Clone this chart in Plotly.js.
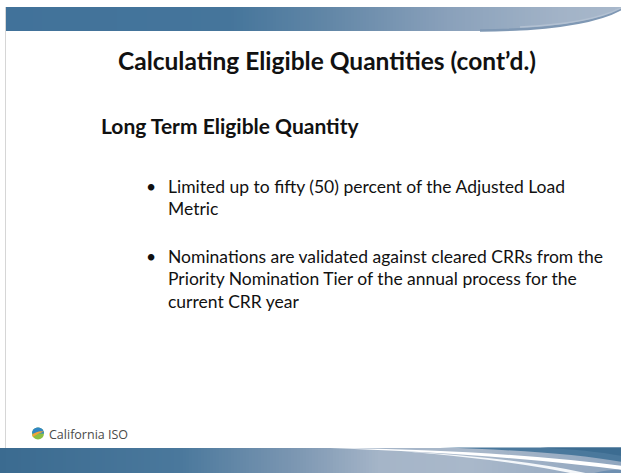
<!DOCTYPE html>
<html>
<head>
<meta charset="utf-8">
<script src="https://cdn.plot.ly/plotly-3.0.1.min.js"></script>
<style>html,body{margin:0;padding:0;background:#fff;}#chart{width:621px;height:473px;}</style>
</head>
<body>
<div id="chart"></div>
<script>
// ---- slide content ----
var titleText = "Calculating Eligible Quantities (cont\u2019d.)";
var subtitleText = "Long Term Eligible Quantity";
var bullet1Lines = ["Limited up to fifty (50) percent of the Adjusted Load", "Metric"];
var bullet2Lines = ["Nominations are validated against cleared CRRs from the", "Priority Nomination Tier of the annual process for the", "current CRR year"];
var footerText = "California ISO";

var W = 621, H = 473;
var shapes = [];
var annotations = [];

function hexToRgb(h){h=h.replace('#','');return [parseInt(h.substr(0,2),16),parseInt(h.substr(2,2),16),parseInt(h.substr(4,2),16)];}
function colorAt(stops, x){
  if (x <= stops[0][0]) return stops[0][1];
  for (var i=1;i<stops.length;i++){
    if (x <= stops[i][0]){
      var a=stops[i-1], b=stops[i], t=(x-a[0])/(b[0]-a[0]);
      var ca=hexToRgb(a[1]), cb=hexToRgb(b[1]);
      return 'rgb('+Math.round(ca[0]+(cb[0]-ca[0])*t)+','+Math.round(ca[1]+(cb[1]-ca[1])*t)+','+Math.round(ca[2]+(cb[2]-ca[2])*t)+')';
    }
  }
  return stops[stops.length-1][1];
}
function gradientRect(x0,x1,y0,y1,stops,step){
  for (var x=x0;x<x1;x+=step){
    shapes.push({type:'rect',xref:'x',yref:'y',x0:x,x1:Math.min(x+step+0.6,x1),y0:y0,y1:y1,
      fillcolor:colorAt(stops,x+step/2),line:{width:0},layer:'below'});
  }
}

// left border line
shapes.push({type:'line',xref:'x',yref:'y',x0:5.5,x1:5.5,y0:7,y1:448,line:{color:'#d6d6d6',width:1},layer:'below'});

// top bar
gradientRect(6, W, 7, 31, [[6,'#41729a'],[230,'#45759b'],[330,'#6287a7'],[450,'#8aa1bb'],[560,'#a2b3c7'],[621,'#a8b8cb']], 3);
// curved tail (white cut-out below curve)
shapes.push({type:'path',xref:'x',yref:'y',path:'M 470 31.5 Q 585 31 622 8 L 622 32 Z',fillcolor:'#ffffff',line:{width:0},layer:'below'});
// darker rim along the curve
shapes.push({type:'path',xref:'x',yref:'y',path:'M 480 30.5 Q 584 29.5 621 9',fillcolor:'rgba(0,0,0,0)',line:{color:'#7f98b4',width:2.5},layer:'below'});
shapes.push({type:'path',xref:'x',yref:'y',path:'M 520 27 Q 590 24 621 8',fillcolor:'rgba(0,0,0,0)',line:{color:'#b3c1d2',width:1.5},layer:'below'});

// bottom bar
gradientRect(0, W, 448, H, [[0,'#3b6b90'],[180,'#4a789c'],[300,'#7e98b3'],[380,'#a5b5c8'],[470,'#a9b8ca'],[621,'#90a6bf']], 3);
// dark band sweeping at top right
shapes.push({type:'path',xref:'x',yref:'y',path:'M 440 447.5 L 622 447.5 L 622 462 Q 560 451 440 447.5 Z',fillcolor:'#4a789c',line:{width:0},layer:'below'});
shapes.push({type:'path',xref:'x',yref:'y',path:'M 540 447.5 L 622 447.5 L 622 456 Q 590 450 540 447.5 Z',fillcolor:'#3c6c91',line:{width:0},layer:'below'});
// white swooshes
shapes.push({type:'path',xref:'x',yref:'y',path:'M 330 448 Q 500 450 622 466 L 622 470 Q 500 454 330 448 Z',fillcolor:'#ffffff',line:{width:0},layer:'below'});
shapes.push({type:'path',xref:'x',yref:'y',path:'M 400 451 Q 520 458 590 474 L 575 474 Q 510 460 400 451 Z',fillcolor:'#f4f7fa',line:{width:0},layer:'below'});
// blue lower-right under the white swoosh
shapes.push({type:'path',xref:'x',yref:'y',path:'M 590 474 Q 610 469 622 470 L 622 474 Z',fillcolor:'#6e8fb0',line:{width:0},layer:'below'});

// logo globe
shapes.push({type:'circle',xref:'x',yref:'y',x0:32,x1:44,y0:427.5,y1:439.5,fillcolor:'#8cc044',line:{width:0}});
shapes.push({type:'path',xref:'x',yref:'y',path:'M 32 433.5 C 32 425.5, 44 425.5, 44 433.5 Z',fillcolor:'#2f86c4',line:{width:0}});
shapes.push({type:'path',xref:'x',yref:'y',path:'M 32.3 435 Q 37 430.5 43.8 431.5 Q 38 433.5 32.8 437 Z',fillcolor:'#f2a23a',line:{width:0}});

// title & subtitle
annotations.push({xref:'x',yref:'y',x:327,y:60,text:'<b>'+titleText+'</b>',showarrow:false,xanchor:'center',yanchor:'middle',
  font:{family:'Lato, "Open Sans", sans-serif',size:24.5,color:'#111111'}});
annotations.push({xref:'x',yref:'y',x:99,y:125,text:'<b>'+subtitleText+'</b>',showarrow:false,xanchor:'left',yanchor:'middle',
  font:{family:'Lato, "Open Sans", sans-serif',size:21,color:'#111111'}});

// bullets
var bodyFont = {family:'Lato, "Open Sans", sans-serif',size:17.5,color:'#111111'};
var lineGap = 22.5;
function addBullet(lines, yStart){
  annotations.push({xref:'x',yref:'y',x:151,y:yStart,text:'\u2022',showarrow:false,xanchor:'center',yanchor:'middle',font:bodyFont});
  for (var i=0;i<lines.length;i++){
    annotations.push({xref:'x',yref:'y',x:166,y:yStart+i*lineGap,text:lines[i],showarrow:false,xanchor:'left',yanchor:'middle',font:bodyFont});
  }
}
addBullet(bullet1Lines, 186);
addBullet(bullet2Lines, 256);

// footer text
annotations.push({xref:'x',yref:'y',x:47,y:434,text:footerText,showarrow:false,xanchor:'left',yanchor:'middle',
  font:{family:'"Open Sans", Lato, sans-serif',size:12.5,color:'#4a4a4a'}});

var layout = {
  width:W, height:H,
  margin:{l:0,r:0,t:0,b:0,pad:0},
  paper_bgcolor:'#ffffff', plot_bgcolor:'#ffffff',
  xaxis:{range:[0,W],visible:false,fixedrange:true},
  yaxis:{range:[H,0],visible:false,fixedrange:true},
  showlegend:false,
  shapes:shapes,
  annotations:annotations
};
Plotly.newPlot('chart',[{x:[],y:[],type:'scatter',hoverinfo:'skip'}],layout,{displayModeBar:false,staticPlot:true});
</script>
</body>
</html>
